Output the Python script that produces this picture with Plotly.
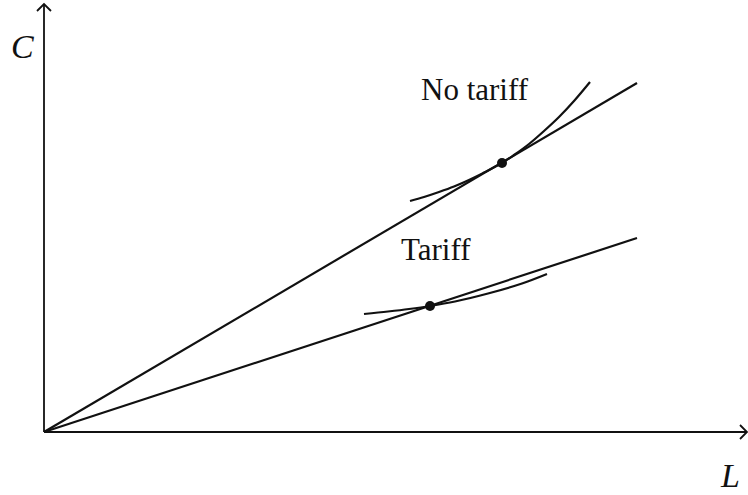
"""Trade diagram: consumption C against labour L, with and without a tariff."""

import plotly.graph_objects as go

# axis extents (data units, origin at the corner of the axes)
x_axis_end = 703
y_axis_end = 428

# budget rays from the origin
ray_x = [0, 593]
no_tariff_ray_y = [0, 349]
tariff_ray_y = [0, 194]

# indifference curves
no_tariff_curve_x = [366, 380, 395, 410, 425, 440, 458, 470, 485, 500, 515, 530, 546]
no_tariff_curve_y = [231, 235, 240, 245.5, 252, 259.5, 269, 277, 288, 301, 315, 331, 350]
tariff_curve_x = [320, 344, 365, 386, 411, 444, 478, 503]
tariff_curve_y = [118, 120.5, 123, 126, 130.5, 138.5, 148.5, 158]

# tangency points
tangent_x = [458, 386]
tangent_y = [269, 126]

# labels
label_text = ["No tariff", "Tariff"]
label_x = [431, 392]
label_y = [343, 183]

INK = "#111111"
FONT = "Liberation Serif"

fig = go.Figure()

# axes with open arrowheads
arrow = 7
fig.add_trace(go.Scatter(
    x=[0, x_axis_end, None, x_axis_end - arrow, x_axis_end, x_axis_end - arrow],
    y=[0, 0, None, arrow, 0, -arrow],
    mode="lines", line=dict(color=INK, width=1.8), hoverinfo="skip",
))
fig.add_trace(go.Scatter(
    x=[0, 0, None, -arrow, 0, arrow],
    y=[0, y_axis_end, None, y_axis_end - arrow, y_axis_end, y_axis_end - arrow],
    mode="lines", line=dict(color=INK, width=1.8), hoverinfo="skip",
))

for ray_y in (no_tariff_ray_y, tariff_ray_y):
    fig.add_trace(go.Scatter(
        x=ray_x, y=ray_y, mode="lines", line=dict(color=INK, width=2.2),
    ))

for cx, cy in ((no_tariff_curve_x, no_tariff_curve_y), (tariff_curve_x, tariff_curve_y)):
    fig.add_trace(go.Scatter(
        x=cx, y=cy, mode="lines",
        line=dict(color=INK, width=2.2, shape="spline", smoothing=1.0),
    ))

fig.add_trace(go.Scatter(
    x=tangent_x, y=tangent_y, mode="markers",
    marker=dict(color=INK, size=10),
))

for text, lx, ly in zip(label_text, label_x, label_y):
    fig.add_annotation(
        x=lx, y=ly, text=text, showarrow=False, xanchor="center", yanchor="middle",
        font=dict(family=FONT, size=31, color=INK),
    )

fig.add_annotation(x=-22, y=386, text="<i>C</i>", showarrow=False,
                   font=dict(family=FONT, size=34, color=INK))
fig.add_annotation(x=686, y=-43, text="<i>L</i>", showarrow=False,
                   font=dict(family=FONT, size=34, color=INK))

fig.update_layout(
    width=748, height=495,
    margin=dict(l=0, r=0, t=0, b=0),
    paper_bgcolor="white", plot_bgcolor="white",
    showlegend=False,
    xaxis=dict(range=[-44, 704], visible=False, fixedrange=True),
    yaxis=dict(range=[-63, 432], visible=False, fixedrange=True),
)

# the default page puts an 8px margin round the body; drop it so the
# figure sits flush with the window
fig.write_html(
    "out.html",
    config={"displayModeBar": False},
    post_script="document.body.style.margin = '0';",
)
